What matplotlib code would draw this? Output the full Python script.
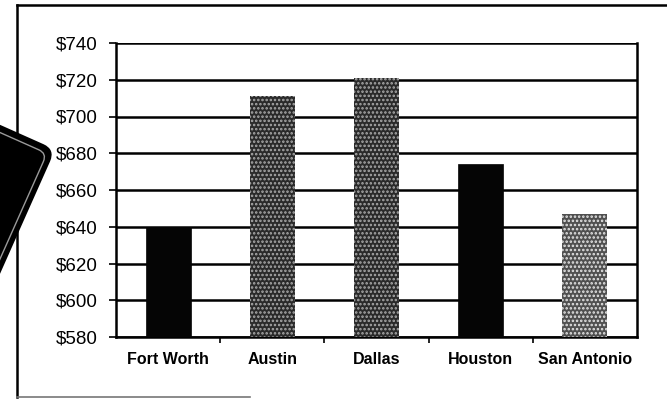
import matplotlib
matplotlib.use("Agg")
import matplotlib.pyplot as plt
from matplotlib.patches import FancyBboxPatch
from matplotlib.lines import Line2D
from matplotlib.transforms import Affine2D
from matplotlib.ticker import FuncFormatter, FixedLocator

plt.rcParams['font.family'] = ['Liberation Sans', 'DejaVu Sans']
plt.rcParams['hatch.linewidth'] = 1.2

cities = ["Fort Worth", "Austin", "Dallas", "Houston", "San Antonio"]
rents = [640, 711, 721, 674, 647]
y_ticks = [580, 600, 620, 640, 660, 680, 700, 720, 740]

# fill style per bar: (face, hatch colour, hatch pattern)
styles = [
    ("#050505", "#050505", None),
    ("#2a2a2a", "#aaaaaa", "...."),
    ("#2a2a2a", "#aaaaaa", "...."),
    ("#050505", "#050505", None),
    ("#505050", "#e6e6e6", "...."),
]

W, H = 667, 399
fig = plt.figure(figsize=(W / 100, H / 100), dpi=100)
fig.patch.set_facecolor("white")

ax = fig.add_axes([116 / W, 1 - 337 / H, (637 - 116) / W, (337 - 43) / H])
x = range(len(cities))
for i, (v, (fc, hc, hp)) in enumerate(zip(rents, styles)):
    ax.bar(i, v - 580, bottom=580, width=0.43, color=fc, edgecolor=hc,
           hatch=hp, linewidth=0 if hp else 0.5, zorder=3)

ax.set_ylim(580, 740)
ax.set_xlim(-0.5, len(cities) - 0.5)
ax.set_yticks(y_ticks)
ax.yaxis.set_major_formatter(FuncFormatter(lambda v, p: f"${v:.0f}"))
ax.yaxis.grid(True, color="black", linewidth=1.8, zorder=1)
ax.set_axisbelow(True)

ax.set_xticks(list(x))
ax.set_xticklabels(cities, fontsize=11.5, fontweight="bold")
ax.xaxis.set_minor_locator(FixedLocator([i + 0.5 for i in range(len(cities) - 1)]))
ax.tick_params(axis="x", which="major", length=0, pad=11)
ax.tick_params(axis="x", which="minor", length=4, width=1.2, direction="out")
ax.tick_params(axis="y", length=5, width=1.2, labelsize=13.5, pad=8)

for side in ("left", "right", "bottom"):
    ax.spines[side].set_linewidth(1.8)
    ax.spines[side].set_color("black")
ax.spines["top"].set_visible(False)

# outer chart border
def px(xp, yp):
    return xp / W, 1 - yp / H

for (x0, y0), (x1, y1), lw, col in [
    ((17, 5), (667, 5), 1.8, "black"),
    ((17, 5), (17, 397), 1.8, "black"),
    ((17, 397), (250, 397), 1.2, "#777777"),
]:
    a, b = px(x0, y0)
    c, d = px(x1, y1)
    fig.add_artist(Line2D([a, c], [b, d], color=col, linewidth=lw,
                          transform=fig.transFigure))

# tilted handset clip-art on the left edge
rot = Affine2D().rotate_deg(-24).translate(0.54, (H - 150) / 100) + fig.dpi_scale_trans
outer = FancyBboxPatch((-1.05, -1.55), 1.05, 1.55,
                       boxstyle="round,pad=0,rounding_size=0.12",
                       facecolor="black", edgecolor="black", linewidth=1.5,
                       transform=rot, zorder=5)
inner = FancyBboxPatch((-1.0, -1.5), 0.95, 1.44,
                       boxstyle="round,pad=0,rounding_size=0.09",
                       facecolor="none", edgecolor="#9a9a9a", linewidth=1.0,
                       transform=rot, zorder=6)
fig.add_artist(outer)
fig.add_artist(inner)

fig.savefig("out.png", dpi=100, facecolor="white")
